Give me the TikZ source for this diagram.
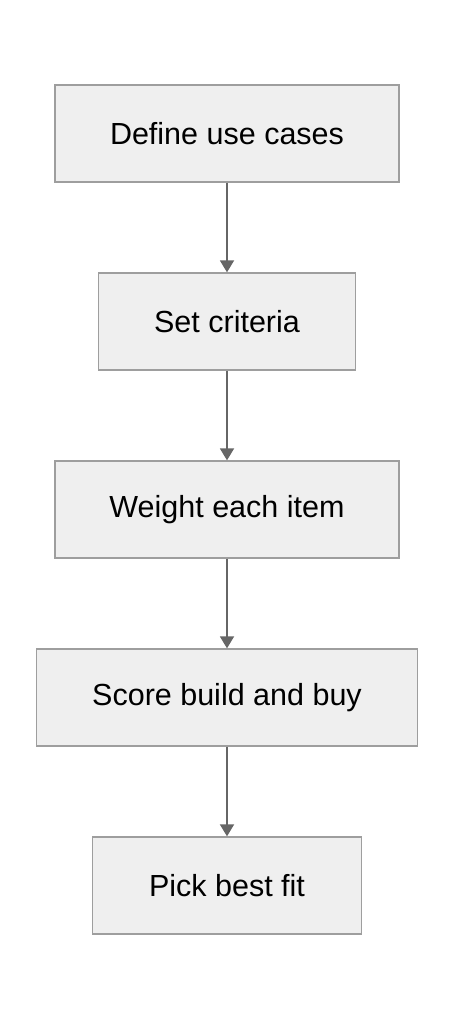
\documentclass[tikz,border=0pt]{standalone}
\usepackage{fontspec}
\setmainfont{Liberation Sans}
\usetikzlibrary{arrows.meta}
\definecolor{boxfill}{HTML}{EFEFEF}
\definecolor{boxline}{HTML}{9E9E9E}
\definecolor{arrowcol}{HTML}{666666}
\begin{document}
\begin{tikzpicture}[x=1pt,y=-1pt,
    stepbox/.style={rectangle, draw=boxline, fill=boxfill, line width=1.3pt,
        minimum height=97pt, inner sep=0pt,
        font=\fontsize{30.5}{36}\selectfont},
    flow/.style={draw=arrowcol, line width=1.8pt,
        -{Triangle[width=14pt,length=12pt]}}]
    \useasboundingbox (0,0) rectangle (454,1020);
    \node [stepbox, minimum width=344pt] (define) at (227,133.5) {Define use cases};
    \node [stepbox, minimum width=257pt] (criteria) at (227,321.5) {Set criteria};
    \node [stepbox, minimum width=344pt] (weight) at (227,509.5) {Weight each item};
    \node [stepbox, minimum width=381pt] (score) at (227,697.5) {Score build and buy};
    \node [stepbox, minimum width=269pt] (pick) at (227,885.5) {Pick best fit};
    \draw [flow] (define) -- (criteria);
    \draw [flow] (criteria) -- (weight);
    \draw [flow] (weight) -- (score);
    \draw [flow] (score) -- (pick);
\end{tikzpicture}
\end{document}
